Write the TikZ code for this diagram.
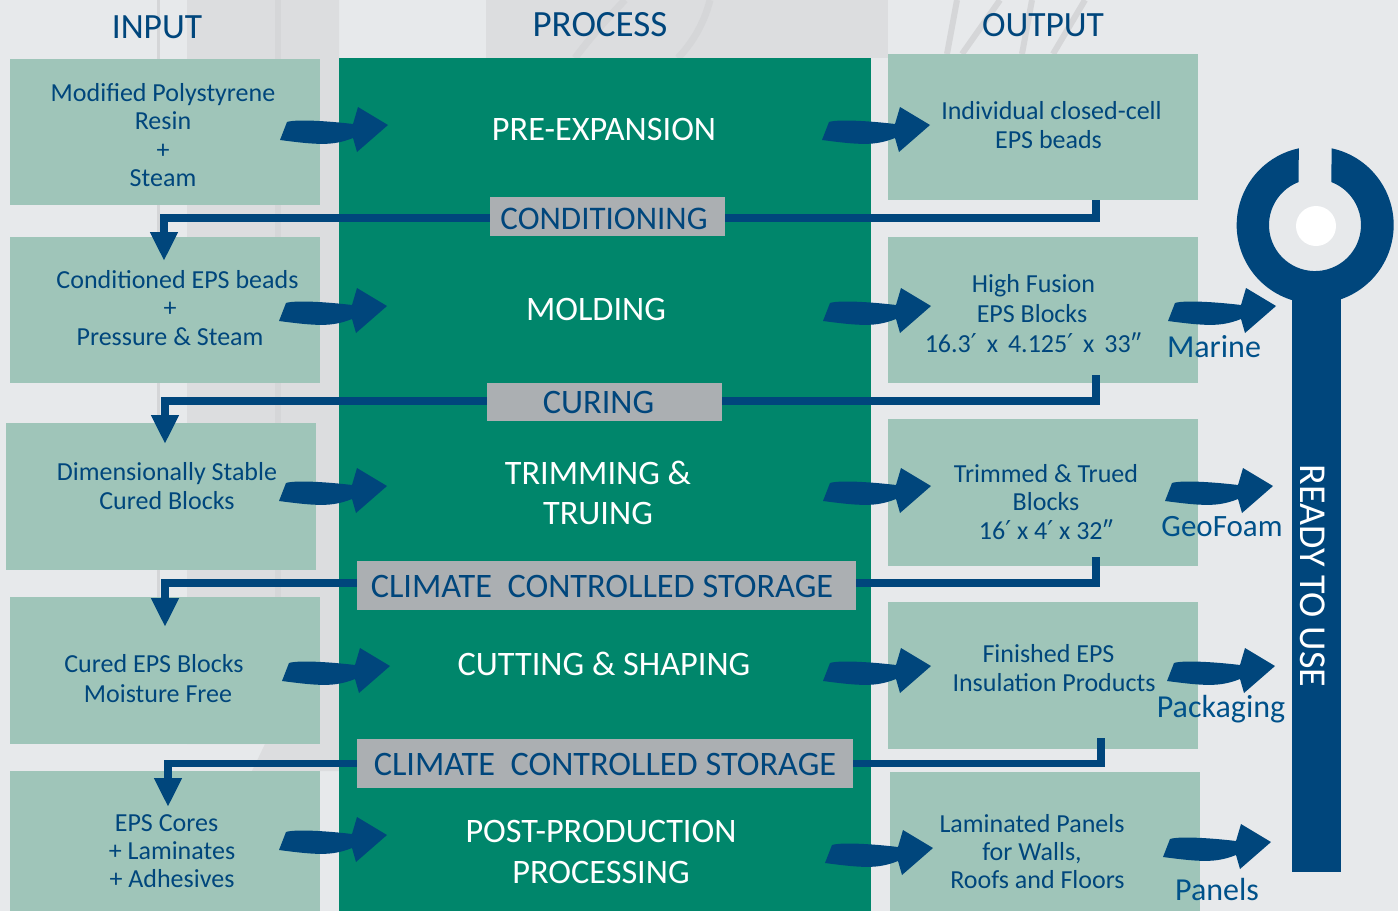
\documentclass[tikz,border=0pt]{standalone}
\usepackage{fontspec}
\setmainfont{Carlito}
\newfontfamily\primefont{DejaVu Sans}
\usetikzlibrary{arrows.meta}

\definecolor{pagegrey}{HTML}{E7E9EB}
\definecolor{swoosh}{HTML}{DCDDDF}
\definecolor{swooshline}{HTML}{D5D6D8}
\definecolor{boxgreen}{HTML}{9FC5B9}
\definecolor{deepgreen}{HTML}{00866B}
\definecolor{labelgrey}{HTML}{ABAFB2}
\definecolor{navy}{HTML}{00467C}
\definecolor{inktext}{HTML}{00518A}

\newcommand{\ftmark}{{\primefont ′}}
\newcommand{\timesgap}{\hspace{10pt}x\hspace{10pt}}

\tikzset{
  panel/.style={fill=boxgreen,inner sep=0pt,minimum width=310pt},
  boxtext/.style={text=navy,align=center,inner sep=0pt,font=\fontsize{26}{28.3}\selectfont},
  widetext/.style={boxtext,font=\fontsize{26}{30}\selectfont},
  headtext/.style={text=navy,inner sep=0pt,font=\fontsize{37}{40}\selectfont},
  steptext/.style={text=white,align=center,inner sep=0pt,font=\fontsize{34.3}{40.5}\selectfont},
  barpanel/.style={fill=labelgrey,inner sep=0pt},
  bartext/.style={text=navy,inner sep=0pt,font=\fontsize{34.3}{38}\selectfont},
  endtext/.style={text=inktext,inner sep=0pt,font=\fontsize{32}{34}\selectfont},
  flowline/.style={draw=navy,line width=7.5pt},
  flowtip/.style={flowline,-{Triangle[length=29pt,width=26pt]}},
  wavy/.pic={\fill[navy] (-108,15) -- (-101,-3) .. controls (-92,-6) and (-60,-4) .. (-35,-1)
     -- (-30,-18) -- (0,0) -- (-31,27) -- (-35,13) .. controls (-55,21) and (-70,20) .. (-108,15) -- cycle;}
}

\begin{document}
\begin{tikzpicture}[x=1pt,y=-1pt]

\fill[pagegrey,use as bounding box] (0,0) rectangle (1398,911);

% faint background marks
\fill[swoosh] (187,0) -- (339,0) -- (339,771) -- (252,771) -- (265,744) -- (187,744) -- cycle;
\fill[swoosh] (486,0) rectangle (888,58);
\fill[swooshline] (157,0) rectangle (160,744);
\fill[swooshline] (275,0) rectangle (281,744);
\draw[swooshline,line width=7pt] (575,58) .. controls (590,38) and (610,15) .. (625,0);
\draw[swooshline,line width=7pt] (678,58) .. controls (695,40) and (705,20) .. (710,0);
\draw[swooshline,line width=6pt] (947,54) -- (957,0);
\draw[swooshline,line width=6pt] (962,54) -- (1000,0);
\draw[swooshline,line width=6pt] (1022,54) -- (1032,0);
\draw[swooshline,line width=6pt] (1053,54) -- (1085,0);

% panels
\node[panel,minimum height=146pt] (in1) at (165,132) {};
\node[panel,minimum height=146pt] (in2) at (165,310) {};
\node[panel,minimum height=147pt] (in3) at (161,496.5) {};
\node[panel,minimum height=147pt] (in4) at (165,670.5) {};
\node[panel,minimum height=140pt] (in5) at (165,841) {};
\node[fill=deepgreen,inner sep=0pt,minimum width=532pt,minimum height=853pt] (proc) at (605,484.5) {};
\node[panel,minimum height=146pt] (out1) at (1043,127) {};
\node[panel,minimum height=146pt] (out2) at (1043,310) {};
\node[panel,minimum height=147pt] (out3) at (1043,492.5) {};
\node[panel,minimum height=147pt] (out4) at (1043,675.5) {};
\node[panel,minimum height=139pt] (out5) at (1045,841.5) {};

% bars across the green panel
\node[barpanel,minimum width=235pt,minimum height=39pt] (bar1) at (607.5,216.5) {};
\node[barpanel,minimum width=235pt,minimum height=38pt] (bar2) at (604.5,402) {};
\node[barpanel,minimum width=499pt,minimum height=49pt] (bar3) at (606.5,585.5) {};
\node[barpanel,minimum width=496pt,minimum height=49pt] (bar4) at (605,763.5) {};

\coordinate (drop1) at (1096,200);
\coordinate (drop2) at (1096,375);
\coordinate (drop3) at (1096,557);
\coordinate (drop4) at (1101,738);
\coordinate (tip1) at (164,261);
\coordinate (tip2) at (165,444);
\coordinate (tip3) at (165,627);
\coordinate (tip4) at (168,807);

\draw[flowline] (drop1) |- ([yshift=-1.5pt]bar1.east);
\draw[flowtip] ([yshift=-1.5pt]bar1.west) -| (tip1);
\draw[flowline] (drop2) |- ([yshift=1pt]bar2.east);
\draw[flowtip] ([yshift=1pt]bar2.west) -| (tip2);
\draw[flowline] (drop3) |- ([yshift=2.5pt]bar3.east);
\draw[flowtip] ([yshift=2.5pt]bar3.west) -| (tip3);
\draw[flowline] (drop4) |- (bar4.east);
\draw[flowtip] (bar4.west) -| (tip4);

\node[bartext,font=\fontsize{33}{38}\selectfont] (bar1t) at (604,219) {CONDITIONING};
\node[bartext] (bar2t) at (598.5,402) {CURING};
\node[bartext] (bar3t) at (602,586) {CLIMATE\ \ CONTROLLED STORAGE};
\node[bartext] (bar4t) at (605,764) {CLIMATE\ \ CONTROLLED STORAGE};

% headings
\node[headtext,font=\fontsize{35.5}{40}\selectfont] (inhead) at (157,27) {INPUT};
\node[headtext] (prochead) at (600,25) {PROCESS};
\node[headtext,font=\fontsize{35.5}{40}\selectfont] (outhead) at (1043,25) {OUTPUT};

% texts
\node[boxtext] (in1t) at (163,135) {Modified Polystyrene\\Resin\\+\\Steam};
\node[boxtext] (in2t) at (170,308) {\hspace*{15pt}Conditioned EPS beads\\+\hspace*{10pt}\\Pressure \& Steam};
\node[boxtext] (in3t) at (167,486) {Dimensionally Stable\\Cured Blocks};
\node[widetext] (in4t) at (156,679) {Cured EPS Blocks\hspace*{4pt}\\\hspace*{4pt}Moisture Free};
\node[boxtext] (in5t) at (170,851) {EPS Cores\hspace*{7pt}\\\hspace*{4pt}+ Laminates\\\hspace*{4pt}+ Adhesives};

\node[steptext] (s1) at (604,129) {PRE-EXPANSION};
\node[steptext] (s2) at (596,309) {MOLDING};
\node[steptext] (s3) at (598,493) {TRIMMING \&\\TRUING};
\node[steptext] (s4) at (604,664) {CUTTING \& SHAPING};
\node[steptext] (s5) at (601,852) {POST-PRODUCTION\\PROCESSING};

\node[boxtext] (out1t) at (1050,125) {\hspace*{3pt}Individual closed-cell\\EPS beads\hspace*{3pt}};
\node[widetext] (out2t) at (1032,314) {\hspace*{3pt}High Fusion\\EPS Blocks\hspace*{5pt}\\\hspace*{2pt}16.3\ftmark\timesgap 4.125\ftmark\timesgap 33″};
\node[boxtext] (out3t) at (1046,502) {Trimmed \& Trued\\Blocks\\16\ftmark\ x 4\ftmark\ x 32″};
\node[boxtext] (out4t) at (1051,668) {Finished EPS\hspace*{5pt}\\\hspace*{6pt}Insulation Products};
\node[boxtext] (out5t) at (1032,851.5) {Laminated Panels\\for Walls,\hspace*{9pt}\\\hspace*{11pt}Roofs and Floors};

\node[endtext] (e1) at (1214,347) {Marine};
\node[endtext,font=\fontsize{31}{34}\selectfont] (e2) at (1222,527) {GeoFoam};
\node[endtext] (e3) at (1221,709) {Packaging};
\node[endtext] (e4) at (1217,889) {Panels};

% wavy arrows
\foreach \x/\y in {388/125,387/306,387/486,390/666,387/835,930/125,931/306,931/486,931/666,933/848,1276/306,1273/486,1275/666,1271/842}
{
\pic at (\x,\y) {wavy};
}

% wrench
\fill[navy] (1292,280) rectangle (1341,872);
\begin{scope}[shift={(1315,225)},y=1pt]
\fill[navy] (16.5,76.7) arc (78:-258:78.5) -- (-16.5,42.9) arc (111:429:46) -- cycle;
\fill[white] (1,-1) circle (20);
\end{scope}
\node[text=white,rotate=-90,inner sep=0pt,font=\fontsize{38}{40}\selectfont] (ready) at (1313,576) {READY TO USE};

\end{tikzpicture}
\end{document}
